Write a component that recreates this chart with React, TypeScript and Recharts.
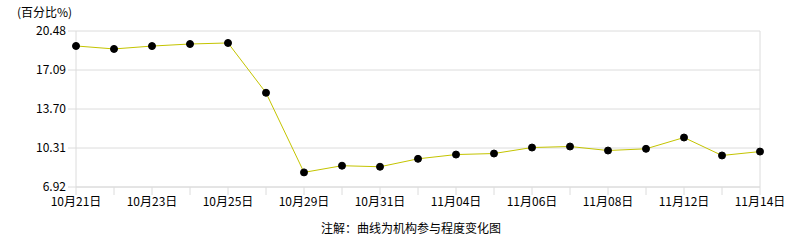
import { LineChart, Line, XAxis, YAxis, CartesianGrid, ReferenceLine } from "recharts";

const dates = [
  "10月21日", "10月22日", "10月23日", "10月24日", "10月25日",
  "10月28日", "10月29日", "10月30日", "10月31日", "11月01日",
  "11月04日", "11月05日", "11月06日", "11月07日", "11月08日",
  "11月11日", "11月12日", "11月13日", "11月14日",
];

const values = [
  19.18, 18.92, 19.17, 19.35, 19.44,
  15.11, 8.19, 8.77, 8.68, 9.37,
  9.74, 9.83, 10.35, 10.44, 10.09,
  10.24, 11.22, 9.66, 10.0,
];

const yTicks = [6.92, 10.31, 13.7, 17.09, 20.48];

const FONT = '"Noto Sans CJK SC", "Noto Sans", sans-serif';
const GRID = "#dcdcdc";

const data = dates.map((d, i) => ({ date: d, value: values[i] }));

export default function App() {
  return (
    <div
      style={{
        position: "absolute",
        left: 0,
        top: 0,
        width: 786,
        height: 240,
        background: "#fff",
        fontFamily: FONT,
      }}
    >
      <div style={{ position: "absolute", left: 17, top: 3, fontSize: 12, color: "#000" }}>
        (百分比%)
      </div>
      <LineChart
        width={786}
        height={240}
        data={data}
        margin={{ top: 31, right: 26, left: 0, bottom: 23 }}
      >
        <CartesianGrid vertical={false} stroke={GRID} />
        <XAxis
          dataKey="date"
          interval={0}
          height={30}
          tickSize={8}
          tickMargin={2}
          stroke={GRID}
          tick={{ fill: "#000", fontSize: 12, fontFamily: FONT }}
          tickFormatter={(v: string, i: number) => (i % 2 === 0 ? v : "")}
        />
        <YAxis
          type="number"
          domain={[6.92, 20.48]}
          ticks={yTicks}
          width={76}
          tickSize={8}
          tickMargin={2}
          stroke={GRID}
          tick={{ fill: "#000", fontSize: 12, fontFamily: FONT }}
          tickFormatter={(v: number) => v.toFixed(2)}
        />
        <ReferenceLine x="11月14日" stroke={GRID} />
        <Line
          type="linear"
          dataKey="value"
          stroke="#c4c400"
          strokeWidth={1}
          dot={{ r: 3.5, fill: "#000", stroke: "#000", strokeWidth: 1 }}
          isAnimationActive={false}
        />
      </LineChart>
      <div
        style={{
          position: "absolute",
          left: 0,
          width: 822,
          top: 219,
          textAlign: "center",
          fontSize: 12,
          color: "#000",
        }}
      >
        注解：曲线为机构参与程度变化图
      </div>
    </div>
  );
}
